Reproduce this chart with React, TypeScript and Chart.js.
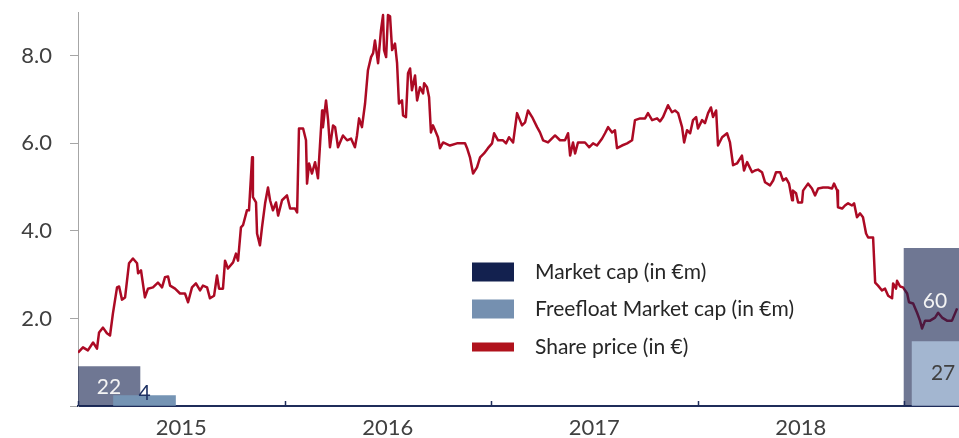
import React, { useEffect, useRef } from 'react';
import { Chart, registerables } from 'chart.js';

Chart.register(...registerables);

// ---- Data ----
const yearLabels = ['2015', '2016', '2017', '2018'];
const yTickValues = [0, 2, 4, 6, 8];

const seriesNames = ['Market cap (in €m)', 'Freefloat Market cap (in €m)', 'Share price (in €)'];

// share price (€), dates as decimal years
const priceDates = [
  2015.000, 2015.024, 2015.048, 2015.073, 2015.092, 2015.102, 2015.121, 2015.140, 2015.155, 2015.169,
  2015.189, 2015.199, 2015.213, 2015.228, 2015.247, 2015.266, 2015.286, 2015.291, 2015.305, 2015.324,
  2015.339, 2015.363, 2015.387, 2015.407, 2015.421, 2015.436, 2015.446, 2015.470, 2015.494, 2015.518,
  2015.533, 2015.552, 2015.571, 2015.591, 2015.605, 2015.625, 2015.639, 2015.659, 2015.673, 2015.683,
  2015.702, 2015.712, 2015.726, 2015.751, 2015.765, 2015.775, 2015.789, 2015.799, 2015.818, 2015.828,
  2015.843, 2015.847, 2015.862, 2015.867, 2015.881, 2015.891, 2015.906, 2015.920, 2015.930, 2015.944,
  2015.959, 2015.969, 2015.988, 2016.012, 2016.027, 2016.051, 2016.061, 2016.070, 2016.090, 2016.104,
  2016.109, 2016.119, 2016.133, 2016.148, 2016.162, 2016.182, 2016.186, 2016.201, 2016.211, 2016.220,
  2016.235, 2016.245, 2016.259, 2016.283, 2016.303, 2016.322, 2016.341, 2016.351, 2016.361, 2016.375,
  2016.390, 2016.404, 2016.419, 2016.429, 2016.438, 2016.453, 2016.467, 2016.477, 2016.482, 2016.492,
  2016.501, 2016.511, 2016.521, 2016.535, 2016.545, 2016.554, 2016.569, 2016.574, 2016.588, 2016.598,
  2016.608, 2016.617, 2016.632, 2016.642, 2016.656, 2016.671, 2016.676, 2016.690, 2016.700, 2016.709,
  2016.719, 2016.729, 2016.743, 2016.753, 2016.768, 2016.801, 2016.835, 2016.874, 2016.884, 2016.898,
  2016.913, 2016.932, 2016.947, 2016.966, 2016.985, 2017.005, 2017.015, 2017.034, 2017.058, 2017.073,
  2017.087, 2017.107, 2017.126, 2017.150, 2017.165, 2017.179, 2017.199, 2017.223, 2017.237, 2017.252,
  2017.276, 2017.310, 2017.334, 2017.358, 2017.373, 2017.383, 2017.397, 2017.407, 2017.421, 2017.455,
  2017.475, 2017.494, 2017.513, 2017.538, 2017.552, 2017.567, 2017.586, 2017.600, 2017.610, 2017.634,
  2017.659, 2017.683, 2017.697, 2017.722, 2017.746, 2017.760, 2017.780, 2017.804, 2017.818, 2017.833,
  2017.857, 2017.876, 2017.891, 2017.906, 2017.925, 2017.935, 2017.949, 2017.964, 2017.978, 2017.993,
  2018.002, 2018.022, 2018.036, 2018.051, 2018.065, 2018.075, 2018.090, 2018.099, 2018.119, 2018.143,
  2018.157, 2018.172, 2018.191, 2018.215, 2018.225, 2018.240, 2018.264, 2018.278, 2018.293, 2018.312,
  2018.327, 2018.351, 2018.366, 2018.380, 2018.400, 2018.414, 2018.429, 2018.443, 2018.458, 2018.462,
  2018.477, 2018.487, 2018.506, 2018.511, 2018.535, 2018.554, 2018.569, 2018.584, 2018.608, 2018.632,
  2018.651, 2018.661, 2018.676, 2018.680, 2018.700, 2018.714, 2018.729, 2018.748, 2018.758, 2018.772,
  2018.787, 2018.801, 2018.816, 2018.826, 2018.850, 2018.860, 2018.874, 2018.893, 2018.908, 2018.923,
  2018.942, 2018.947, 2018.961, 2018.966, 2018.981, 2018.995, 2019.015, 2019.024, 2019.044, 2019.063,
  2019.077, 2019.087, 2019.102, 2019.126, 2019.150, 2019.165, 2019.184, 2019.208, 2019.232, 2019.257,
];
const priceValues = [
  1.22, 1.34, 1.27, 1.45, 1.31, 1.68, 1.79, 1.66, 1.61, 2.11,
  2.71, 2.73, 2.43, 2.48, 3.26, 3.37, 3.26, 3.03, 3.10, 2.48,
  2.68, 2.71, 2.82, 2.71, 2.94, 2.96, 2.75, 2.68, 2.57, 2.57,
  2.37, 2.71, 2.80, 2.64, 2.75, 2.71, 2.46, 2.52, 2.98, 2.68,
  2.68, 3.32, 3.14, 3.28, 3.48, 3.32, 4.08, 4.13, 4.47, 4.47,
  5.68, 4.77, 4.65, 3.94, 3.67, 4.08, 4.63, 4.99, 4.70, 4.47,
  4.65, 4.35, 4.70, 4.81, 4.51, 4.51, 4.42, 6.34, 6.34, 6.07,
  5.08, 5.54, 5.31, 5.57, 5.20, 6.75, 6.37, 6.98, 6.53, 5.91,
  6.41, 6.37, 5.91, 6.18, 6.07, 6.11, 5.91, 6.18, 6.57, 6.37,
  6.91, 7.67, 7.97, 8.06, 8.35, 7.83, 8.58, 8.93, 8.13, 7.97,
  8.93, 8.90, 8.13, 8.28, 7.83, 6.91, 6.98, 6.64, 6.60, 7.60,
  7.71, 7.21, 7.55, 6.98, 7.28, 7.14, 7.37, 7.28, 7.05, 6.25,
  6.41, 6.30, 6.14, 5.89, 6.02, 5.95, 6.00, 6.00, 5.89, 5.68,
  5.31, 5.45, 5.68, 5.77, 5.89, 6.00, 6.23, 6.07, 6.07, 6.00,
  6.14, 6.02, 6.69, 6.41, 6.48, 6.75, 6.60, 6.37, 6.25, 6.07,
  6.02, 6.18, 6.07, 6.07, 6.23, 5.72, 6.02, 5.77, 6.02, 6.02,
  5.91, 6.00, 5.95, 6.11, 6.23, 6.37, 6.25, 6.30, 5.89, 5.95,
  6.00, 6.07, 6.53, 6.57, 6.57, 6.69, 6.53, 6.57, 6.50, 6.60,
  6.87, 6.71, 6.75, 6.69, 6.37, 6.02, 6.30, 6.23, 6.53, 6.60,
  6.34, 6.53, 6.46, 6.69, 6.82, 6.60, 6.75, 5.95, 6.14, 6.23,
  6.02, 5.50, 5.54, 5.72, 5.38, 5.57, 5.34, 5.38, 5.40, 5.34,
  5.11, 5.04, 5.15, 5.34, 5.34, 5.15, 5.20, 5.08, 4.70, 4.92,
  4.86, 4.65, 4.65, 4.92, 5.08, 4.97, 4.81, 4.97, 4.99, 4.99,
  4.97, 5.08, 4.92, 4.54, 4.51, 4.58, 4.63, 4.58, 4.63, 4.31,
  4.40, 4.31, 3.94, 3.85, 3.85, 2.82, 2.75, 2.64, 2.68, 2.52,
  2.46, 2.80, 2.68, 2.86, 2.73, 2.71, 2.57, 2.37, 2.34, 2.13,
  1.95, 1.77, 1.95, 1.95, 2.02, 2.13, 2.02, 1.95, 1.95, 2.23,
];

// market cap bars (drawn height on price axis, value labels in €m)
const marketCapDates = [2015.150, 2019.150];
const marketCapHeights = [0.90, 3.60];
const marketCapLabels = ['22', '60'];

const freefloatDates = [2015.322, 2019.189];
const freefloatHeights = [0.24, 1.47];
const freefloatLabels = ['4', '27'];

const X_MIN = 2015;
const X_MAX = 2019.266;
const Y_MAX = 9;

const FONT = 'Lato, "Open Sans", sans-serif';

const legendSwatchColors = ['#13214F', '#7590B0', '#B0121C'];

const inwardTicksPlugin = {
  id: 'inwardTicks',
  afterDatasetsDraw(chart: any) {
    const { ctx, chartArea } = chart;
    const x = chart.scales.x;
    const bounds = yearLabels.map((l) => Number(l)).concat([Number(yearLabels[yearLabels.length - 1]) + 1]);
    ctx.save();
    ctx.strokeStyle = '#1F2D5A';
    ctx.lineWidth = 1.5;
    bounds.forEach((v) => {
      const px = Math.round(x.getPixelForValue(v)) + 0.5;
      ctx.beginPath();
      ctx.moveTo(px, chartArea.bottom);
      ctx.lineTo(px, chartArea.bottom - 5);
      ctx.stroke();
    });
    ctx.restore();
  },
};

const barLabelsPlugin = {
  id: 'barLabels',
  afterDatasetsDraw(chart: any) {
    const { ctx } = chart;
    const mc = chart.getDatasetMeta(0);
    const ff = chart.getDatasetMeta(1);
    ctx.save();
    ctx.font = `21px ${FONT}`;
    ctx.textAlign = 'center';
    ctx.textBaseline = 'middle';
    const mcColors = ['#F4F4F4', '#F4F4F4'];
    const ffColors = ['#1F3264', '#404040'];
    mc.data.forEach((bar: any, i: number) => {
      const ffTop = ff.data[i] ? ff.data[i].y : bar.base;
      const y = (bar.y + ffTop) / 2 + 6;
      ctx.fillStyle = mcColors[i];
      ctx.fillText(marketCapLabels[i], bar.x, y);
    });
    ff.data.forEach((bar: any, i: number) => {
      const y = Math.min((bar.y + bar.base) / 2, bar.base - 12);
      ctx.fillStyle = ffColors[i];
      ctx.fillText(freefloatLabels[i], bar.x, y);
    });
    ctx.restore();
  },
};

const legendPlugin = {
  id: 'customLegend',
  afterDraw(chart: any) {
    const { ctx } = chart;
    const sx = 472;
    const sw = 42;
    const centers = [272, 309, 347];
    const heights = [19, 19, 9];
    ctx.save();
    ctx.font = `21px ${FONT}`;
    ctx.textAlign = 'left';
    ctx.textBaseline = 'middle';
    seriesNames.forEach((name, i) => {
      ctx.fillStyle = legendSwatchColors[i];
      ctx.fillRect(sx, centers[i] - heights[i] / 2, sw, heights[i]);
      ctx.fillStyle = '#262626';
      ctx.fillText(name, 535, centers[i]);
    });
    ctx.restore();
  },
};

export default function App() {
  const canvasRef = useRef<HTMLCanvasElement | null>(null);

  useEffect(() => {
    if (!canvasRef.current) return;
    const chart = new Chart(canvasRef.current, {
      type: 'line',
      data: {
        datasets: [
          {
            type: 'bar',
            label: seriesNames[0],
            data: marketCapDates.map((d, i) => ({ x: d, y: marketCapHeights[i] })),
            backgroundColor: 'rgba(19,33,79,0.61)',
            borderWidth: 0,
            barThickness: 62,
            grouped: false,
            order: 2,
          } as any,
          {
            type: 'bar',
            label: seriesNames[1],
            data: freefloatDates.map((d, i) => ({ x: d, y: freefloatHeights[i] })),
            backgroundColor: ['#7594B4', '#A3B6D0'],
            borderWidth: 0,
            barThickness: 62,
            grouped: false,
            order: 1,
          } as any,
          {
            type: 'line',
            label: seriesNames[2],
            data: priceDates.map((d, i) => ({ x: d, y: priceValues[i] })),
            borderColor: '#AC0A24',
            borderWidth: 2.5,
            pointRadius: 0,
            tension: 0,
            borderJoinStyle: 'round',
            fill: false,
            order: 3,
          } as any,
        ],
      },
      options: {
        animation: false,
        responsive: false,
        devicePixelRatio: 1,
        layout: { padding: { top: 12, right: 0, bottom: 0, left: 0 } },
        plugins: {
          legend: { display: false },
          tooltip: { enabled: false },
        },
        scales: {
          x: {
            type: 'linear',
            min: X_MIN,
            max: X_MAX,
            offset: false,
            grid: { display: false, drawTicks: false },
            border: { display: true, color: '#1F2D5A', width: 2 },
            afterBuildTicks: (scale: any) => {
              scale.ticks = yearLabels.map((l) => ({ value: Number(l) + 0.5 }));
            },
            afterFit: (scale: any) => {
              scale.height = 32;
              scale.paddingLeft = 0;
              scale.paddingRight = 0;
            },
            ticks: {
              autoSkip: false,
              maxRotation: 0,
              padding: 9,
              color: '#404040',
              font: { family: FONT, size: 22 },
              callback: (v: any) => {
                const idx = yearLabels.findIndex((l) => Number(l) + 0.5 === Number(v));
                return idx >= 0 ? yearLabels[idx] : '';
              },
            },
          },
          y: {
            type: 'linear',
            min: 0,
            max: Y_MAX,
            grid: {
              display: true,
              drawOnChartArea: false,
              drawTicks: true,
              tickLength: 8,
              color: '#A6A6A6',
              lineWidth: 1,
            },
            border: { display: true, color: '#A6A6A6', width: 1 },
            afterBuildTicks: (scale: any) => {
              scale.ticks = yTickValues.map((v) => ({ value: v }));
            },
            afterFit: (scale: any) => {
              scale.width = 78;
              scale.paddingTop = 0;
              scale.paddingBottom = 0;
            },
            ticks: {
              padding: 18,
              color: '#404040',
              font: { family: FONT, size: 22 },
              callback: (v: any) => (Number(v) === 0 ? '' : Number(v).toFixed(1)),
            },
          },
        },
      },
      plugins: [inwardTicksPlugin, barLabelsPlugin, legendPlugin],
    });
    return () => chart.destroy();
  }, []);

  return (
    <div style={{ position: 'fixed', left: 0, top: 0, width: 959, height: 438, background: '#fff' }}>
      <canvas ref={canvasRef} width={959} height={438} style={{ display: 'block' }} />
    </div>
  );
}
